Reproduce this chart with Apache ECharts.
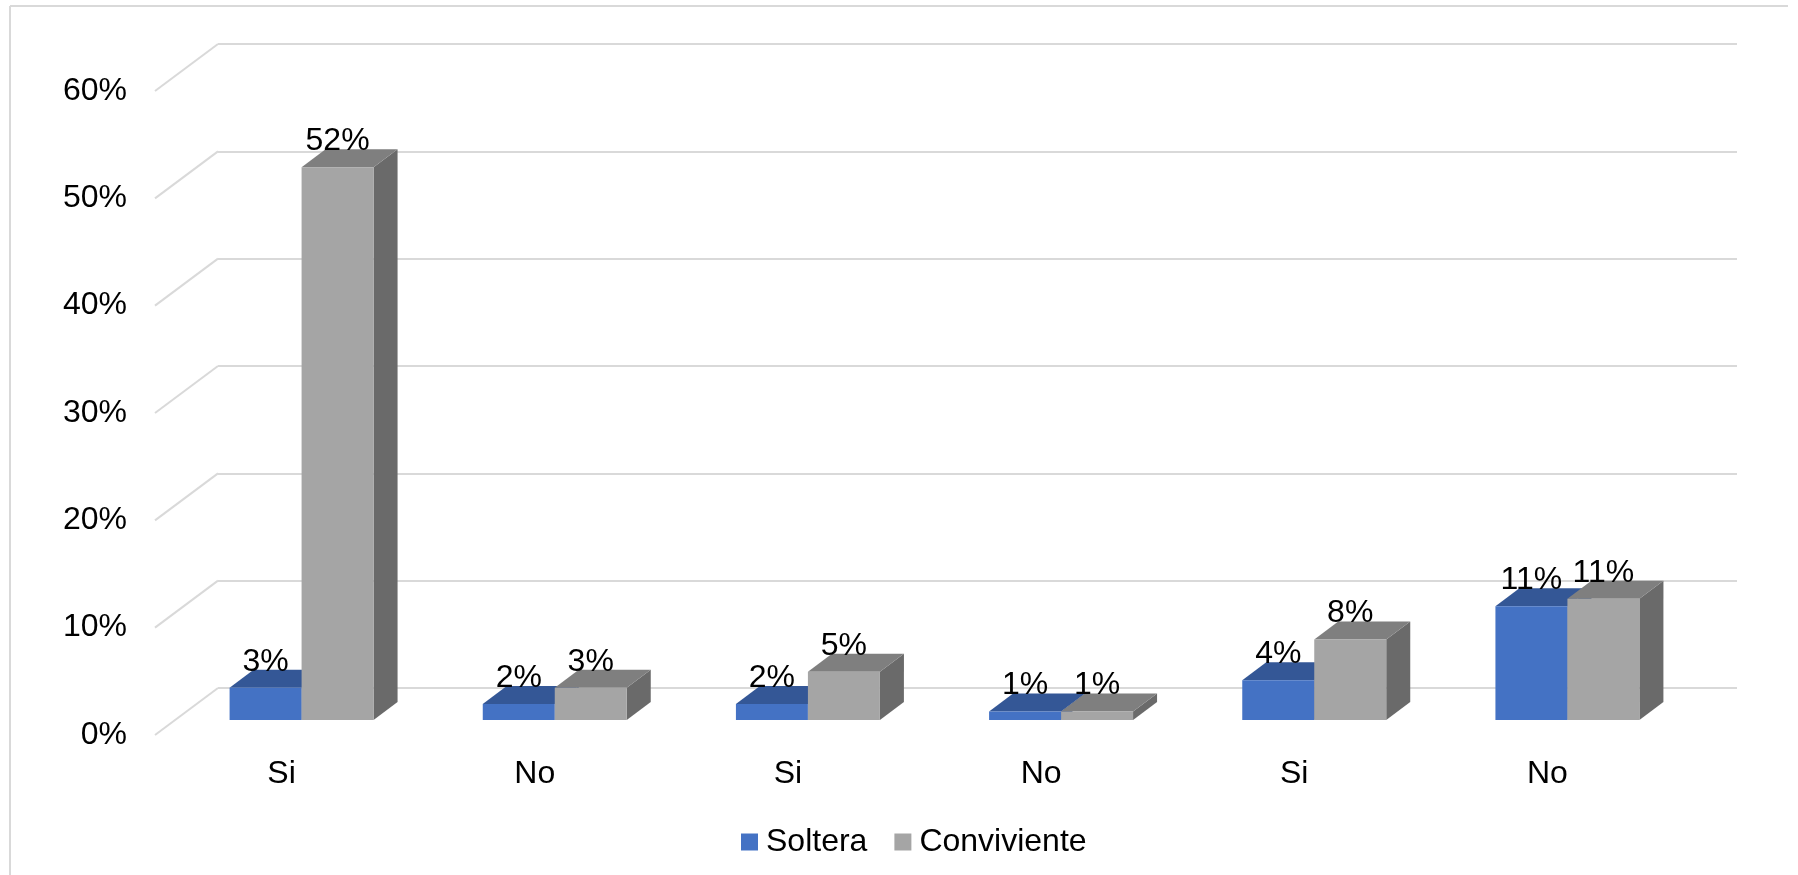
<!DOCTYPE html>
<html>
<head>
<meta charset="utf-8">
<script src="https://cdn.jsdelivr.net/npm/echarts@6/dist/echarts.min.js"></script>
<style>
  html, body { margin: 0; padding: 0; background: #fff; }
  #main { width: 1798px; height: 875px; }
</style>
</head>
<body>
<div id="main"></div>
<script>
// data (percent)
var categories = ['Si', 'No', 'Si', 'No', 'Si', 'No'];
var soltera = [3.0, 1.5, 1.5, 0.8, 3.7, 10.6];
var conviviente = [51.5, 3.0, 4.5, 0.8, 7.5, 11.3];
var yTicks = [0, 10, 20, 30, 40, 50, 60];

// oblique 3d look: back wall, bar plane, front plane
var W = 1519, H = 644;
var FLOOR_DX = 63, FLOOR_DY = 47;   // front -> back
var BAR_DX = 24, BAR_DY = 18;       // bar depth
var BAR_FRAC = 72 / 253.2;
var FONT = 'Liberation Sans, Arial, sans-serif';
var FS = 32;

var chart = echarts.init(document.getElementById('main'));

function barRender(which, cFront, cTop, cSide) {
    return function (params, api) {
        var idx = api.value(0), v = api.value(1);
        var base = api.coord([idx, 0]);
        var tp = api.coord([idx, v]);
        var band = api.size([1, 0])[0];
        var w = band * BAR_FRAC;
        var x0 = which === 0 ? base[0] - w : base[0];
        var x1 = x0 + w;
        var yt = tp[1], yb = base[1];
        return {
            type: 'group',
            children: [
                { type: 'polygon', shape: { points: [[x1, yt], [x1 + BAR_DX, yt - BAR_DY], [x1 + BAR_DX, yb - BAR_DY], [x1, yb]] }, style: { fill: cSide } },
                { type: 'polygon', shape: { points: [[x0, yt], [x1, yt], [x1 + BAR_DX, yt - BAR_DY], [x0 + BAR_DX, yt - BAR_DY]] }, style: { fill: cTop } },
                { type: 'rect', shape: { x: x0, y: yt, width: w, height: yb - yt }, style: { fill: cFront } },
                { type: 'text', style: { text: Math.round(v) + '%', x: (x0 + x1) / 2, y: yt - 26, align: 'center', verticalAlign: 'middle', fontSize: FS, fontFamily: FONT, fill: '#000' } }
            ]
        };
    };
}

var option = {
    backgroundColor: '#fff',
    animation: false,
    graphic: [
        { type: 'line', shape: { x1: 10, y1: 6, x2: 1788, y2: 6 }, style: { stroke: '#d9d9d9', lineWidth: 2 } },
        { type: 'line', shape: { x1: 10, y1: 6, x2: 10, y2: 880 }, style: { stroke: '#d9d9d9', lineWidth: 2 } }
    ],
    legend: {
        left: 736,
        top: 821,
        itemWidth: 17,
        itemHeight: 17,
        itemGap: 27,
        icon: 'rect',
        textStyle: { fontSize: FS, fontFamily: FONT, color: '#000', padding: [0, 0, 0, 3] },
        data: ['Soltera', 'Conviviente']
    },
    grid: [
        { left: 218, top: 44, width: W, height: H },                         // back wall
        { left: 218 - FLOOR_DX, top: 44 + FLOOR_DY, width: W, height: H },   // front plane (labels)
        { left: 175, top: 76, width: W, height: H }                          // bar plane
    ],
    xAxis: [
        { gridIndex: 0, type: 'value', min: 0, max: 1, show: false },
        { gridIndex: 1, type: 'category', data: categories, axisLine: { show: false }, axisTick: { show: false },
          axisLabel: { fontSize: FS, fontFamily: FONT, color: '#000', margin: 23 } },
        { gridIndex: 2, type: 'category', data: categories, show: false }
    ],
    yAxis: [
        { gridIndex: 0, type: 'value', min: 0, max: 60, interval: 10, axisLabel: { show: false },
          axisLine: { show: false }, axisTick: { show: false },
          splitLine: { lineStyle: { color: '#d9d9d9', width: 2 } } },
        { gridIndex: 1, type: 'value', min: 0, max: 60, interval: 10, splitLine: { show: false },
          axisLine: { show: false }, axisTick: { show: false },
          axisLabel: { formatter: '{value}%', fontSize: FS, fontFamily: FONT, color: '#000', margin: 28 } },
        { gridIndex: 2, type: 'value', min: 0, max: 60, interval: 10, show: false }
    ],
    series: [
        {
            type: 'custom', xAxisIndex: 0, yAxisIndex: 0, silent: true, clip: false,
            data: yTicks.map(function (t) { return [0, t]; }),
            renderItem: function (params, api) {
                var p = api.coord([0, api.value(1)]);
                return { type: 'line', shape: { x1: p[0], y1: p[1], x2: p[0] - FLOOR_DX, y2: p[1] + FLOOR_DY },
                         style: { stroke: '#d9d9d9', lineWidth: 2 } };
            }
        },
        {
            name: 'Soltera', type: 'custom', xAxisIndex: 2, yAxisIndex: 2, clip: false,
            itemStyle: { color: '#4472c4' },
            data: soltera.map(function (v, i) { return [i, v]; }),
            renderItem: barRender(0, '#4472c4', '#345796', '#2f4f8a')
        },
        {
            name: 'Conviviente', type: 'custom', xAxisIndex: 2, yAxisIndex: 2, clip: false,
            itemStyle: { color: '#a5a5a5' },
            data: conviviente.map(function (v, i) { return [i, v]; }),
            renderItem: barRender(1, '#a5a5a5', '#7f7f7f', '#6a6a6a')
        }
    ]
};

chart.setOption(option);
</script>
</body>
</html>
